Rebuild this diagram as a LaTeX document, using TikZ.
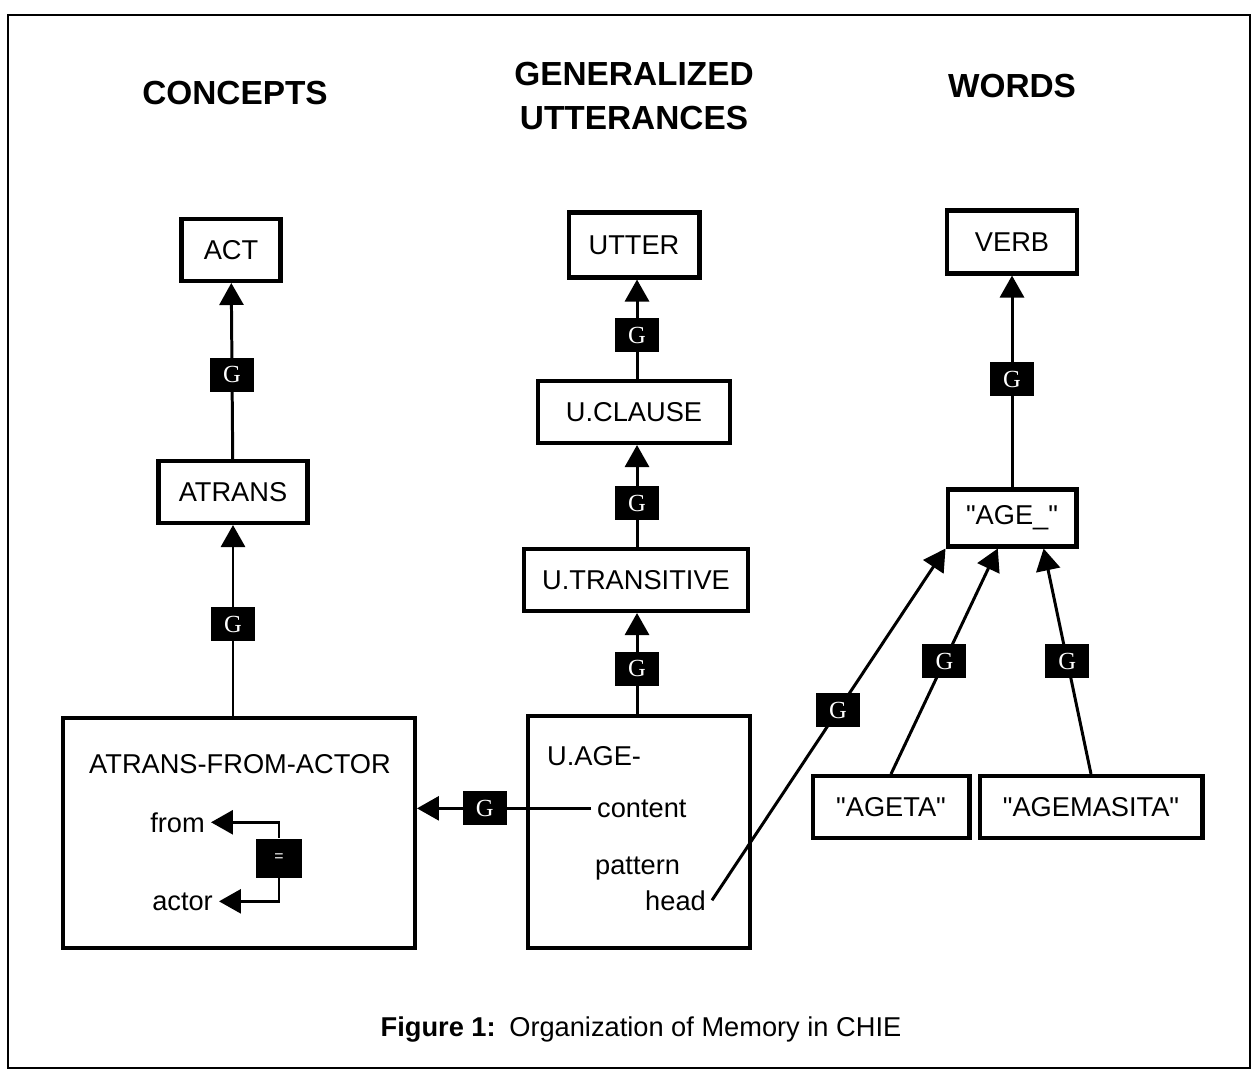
\documentclass[tikz,border=0pt]{standalone}
\usepackage{fontspec}
\setmainfont{Liberation Sans}[Ligatures=TeXOff]
\newfontfamily\gfont{Liberation Serif}
\usetikzlibrary{arrows.meta, shapes}

\tikzset{
  frame/.style = {draw, line width=2.3pt, minimum height=1.24cm, inner sep=0pt},
  gtag/.style = {fill=black, text=white, minimum width=0.88cm, minimum height=0.68cm,
                 inner sep=0pt, font=\gfont\fontsize{14}{14}\selectfont},
  link/.style = {line width=1.7pt, -{Triangle[length=0.44cm, width=0.48cm]}},
  head/.style = {font=\bfseries\fontsize{19}{25.5}\selectfont, align=center},
}

\begin{document}
\begin{tikzpicture}[x=0.02cm, y=-0.02cm, font=\fontsize{15.5}{18.6}\selectfont]
    \useasboundingbox (0, 0) rectangle (1254, 1072);
    \draw [line width=1.2pt] (8, 15) rectangle (1250, 1068);

    \node [head] (hconc) at (235, 93) {CONCEPTS};
    \node [head] (hutt) at (634, 96) {GENERALIZED\\UTTERANCES};
    \node [head] (hword) at (1012, 86) {WORDS};

%   concepts
    \node [frame, minimum width=1.98cm] (act) at (231, 250) {ACT};
    \node [frame, minimum width=2.98cm] (atrans) at (233, 492) {ATRANS};
    \node [frame, minimum width=7.04cm, minimum height=4.6cm] (afa) at (239, 833) {};
    \node (afatxt) at (240, 764) {ATRANS-FROM-ACTOR};
    \node [anchor=base east] (from) at (211, 832) {from};
    \node [anchor=base east] (actor) at (219, 910) {actor};
    \node [gtag, minimum width=0.92cm, minimum height=0.78cm,
           font=\fontsize{9}{9}\selectfont] (eq) at (279, 858) {=};
    \draw [link] (eq.north) |- (from.east);
    \draw [link] (eq.south) |- (actor.east);

    \draw [link] (atrans) -- node [gtag, pos=0.48] (g1) {G} (act);
    \draw [link] (atrans.south |- afa.north) -- node [gtag, pos=0.48] (g2) {G} (atrans.south);

%   generalized utterances
    \node [frame, minimum width=2.62cm, minimum height=1.3cm] (utter) at (634, 245) {UTTER};
    \node [frame, minimum width=3.84cm] (uclause) at (634, 412) {U.CLAUSE};
    \node [frame, minimum width=4.48cm] (utrans) at (636, 580) {U.TRANSITIVE};
    \node [frame, minimum width=4.44cm, minimum height=4.64cm] (uage) at (639, 832) {};
    \node [anchor=base west] (uagetxt) at (541, 765) {U.AGE-};
    \node [anchor=base west] (content) at (591, 817) {content};
    \node [anchor=base west] (pattern) at (589, 874) {pattern};
    \node [anchor=base east] (hd) at (712, 910) {head};

    \draw [link] (uclause.north -| 637, 0) -- node [gtag, pos=0.44] (g3) {G} (utter.south -| 637, 0);
    \draw [link] (utrans.north -| 637, 0) -- node [gtag, pos=0.43] (g4) {G} (uclause.south -| 637, 0);
    \draw [link] (uage.north -| 637, 0) -- node [gtag, pos=0.45] (g5) {G} (utrans.south -| 637, 0);
    \draw [link] (content.west) -- node [gtag, pos=0.61] (g6) {G} (content.west -| afa.east);

%   words
    \node [frame, minimum width=2.6cm, minimum height=1.26cm] (verb) at (1012, 242) {VERB};
    \node [frame, minimum width=2.58cm, minimum height=1.14cm] (age) at (1012, 518) {"AGE\_"};
    \node [frame, minimum width=3.14cm] (ageta) at (891, 807) {"AGETA"};
    \node [frame, minimum width=4.46cm] (agemas) at (1091, 807) {"AGEMASITA"};

    \draw [link] (age) -- node [gtag, pos=0.51] (g7) {G} (verb);
    \draw [link] (hd.east) -- node [gtag, pos=0.54] (g8) {G} (age.south west);
    \draw [link] (ageta.north) -- node [gtag, pos=0.5] (g9) {G} (age.-115);
    \draw [link] (agemas.north) -- node [gtag, pos=0.5] (g10) {G} (age.-44);

    \node (cap) at (641, 1030) {\textbf{Figure 1:}\enspace Organization of Memory in CHIE};
\end{tikzpicture}
\end{document}
